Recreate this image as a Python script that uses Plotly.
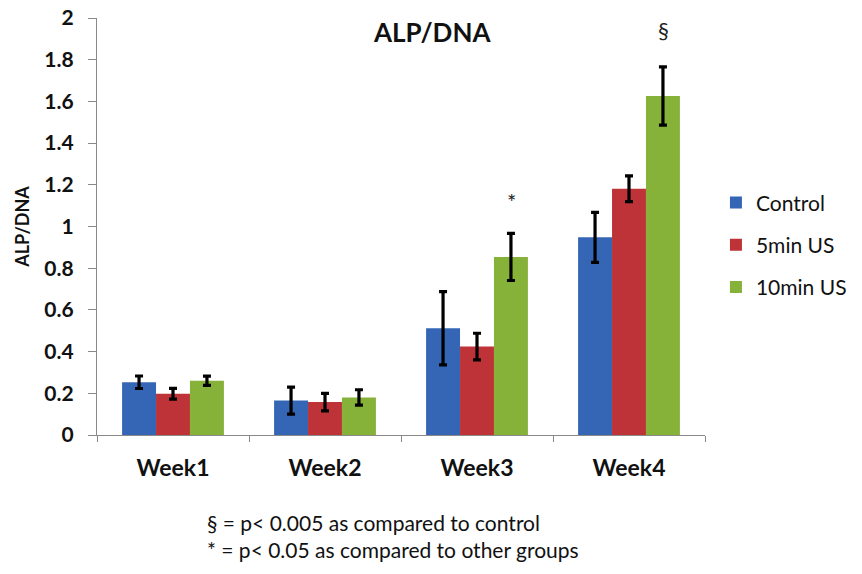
import plotly.graph_objects as go

weeks = ["Week1", "Week2", "Week3", "Week4"]
control = [0.253, 0.165, 0.512, 0.948]
control_err = [0.030, 0.065, 0.176, 0.120]
us5 = [0.198, 0.158, 0.424, 1.181]
us5_err = [0.026, 0.042, 0.064, 0.062]
us10 = [0.260, 0.180, 0.854, 1.626]
us10_err = [0.022, 0.037, 0.113, 0.140]
y_ticks = [0, 0.2, 0.4, 0.6, 0.8, 1, 1.2, 1.4, 1.6, 1.8, 2]
y_tick_labels = ["0", "0.2", "0.4", "0.6", "0.8", "1", "1.2", "1.4", "1.6", "1.8", "2"]

series = [
    ("Control", control, control_err, "#3566B6"),
    ("5min US", us5, us5_err, "#BE3337"),
    ("10min US", us10, us10_err, "#86B23A"),
]

font_main = "Lato, 'Open Sans', sans-serif"

fig = go.Figure()
for name, vals, errs, color in series:
    fig.add_trace(go.Bar(
        x=weeks, y=vals, name=name, legendgroup=name,
        marker=dict(color=color, line=dict(width=0)),
        error_y=dict(type="data", array=errs, visible=True,
                     color="black", thickness=3.2, width=4),
    ))

# significance markers above the 10min US bars
marks = [("Week3", "*", 2, 32), ("Week4", "§", 3, 37)]
for wk, sym, i, shift in marks:
    fig.add_annotation(
        x=wk, y=us10[i] + us10_err[i], xref="x", yref="y",
        text=sym, showarrow=False, xshift=34, yshift=shift,
        font=dict(family=font_main, size=22, color="#222"),
    )

fig.add_annotation(
    x=(432 - 97) / 608, y=1.0, xref="paper", yref="paper", yanchor="top",
    text="<b>ALP/DNA</b>", showarrow=False, yshift=4,
    font=dict(family=font_main, size=26, color="#111"),
)

fig.add_annotation(
    x=(205 - 97) / 608, y=-0.175, xref="paper", yref="paper",
    xanchor="left", yanchor="top", align="left",
    text="§ = p< 0.005 as compared to control<br>* = p< 0.05 as compared to other groups",
    showarrow=False,
    font=dict(family=font_main, size=21, color="#111"),
)

fig.update_layout(
    width=862, height=574,
    margin=dict(l=97, r=157, t=18, b=139, autoexpand=False),
    paper_bgcolor="white", plot_bgcolor="white",
    barmode="group", bargap=0.33, bargroupgap=0,
    showlegend=True,
    legend=dict(x=1.018, y=0.456, xanchor="left", yanchor="middle",
                font=dict(family=font_main, size=21, color="#111"),
                traceorder="grouped", tracegroupgap=12, itemwidth=30),
    xaxis=dict(
        showline=True, linecolor="#8a8a8a", linewidth=1.2,
        ticks="outside", tickson="boundaries", ticklen=6, tickcolor="#8a8a8a",
        tickvals=weeks, ticktext=["<b>%s</b>" % w for w in weeks],
        ticklabelstandoff=12,
        tickfont=dict(family=font_main, size=23, color="#111"),
        showgrid=False,
    ),
    yaxis=dict(
        range=[0, 2], tickvals=y_ticks,
        ticktext=["<b>%s</b>" % t for t in y_tick_labels],
        showline=True, linecolor="#8a8a8a", linewidth=1.2,
        ticks="outside", ticklen=8, tickcolor="#8a8a8a",
        ticklabelstandoff=10,
        tickfont=dict(family=font_main, size=21, color="#111"),
        showgrid=False, zeroline=False,
        title=dict(text="<b>ALP/DNA</b>", standoff=10,
                   font=dict(family=font_main, size=18, color="#111")),
    ),
)

fig.write_html("out.html")
